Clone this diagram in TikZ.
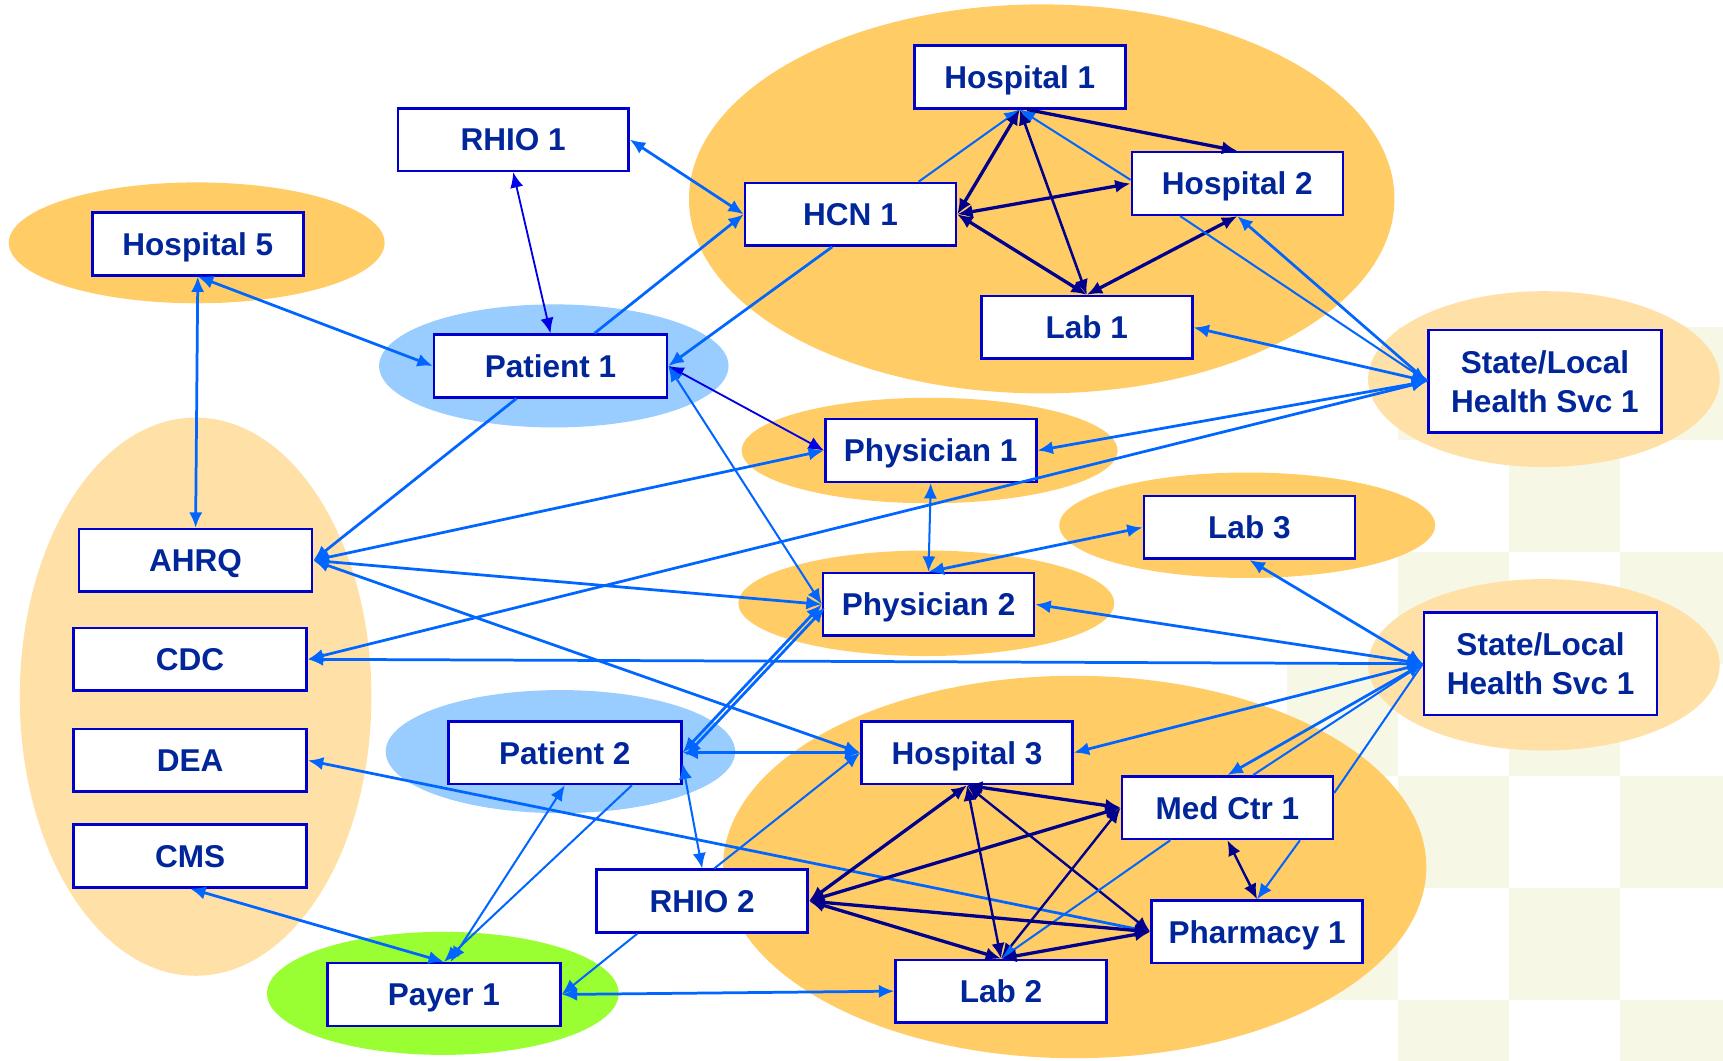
\documentclass[tikz,border=0pt]{standalone}
\usepackage{fontspec}
\setmainfont{Liberation Sans}
\usetikzlibrary{arrows.meta}
\definecolor{boxblue}{RGB}{0,0,204}
\definecolor{textblue}{RGB}{0,38,153}
\definecolor{linkblue}{RGB}{0,102,255}
\definecolor{midblue}{RGB}{0,0,230}
\definecolor{navyline}{RGB}{0,0,140}
\definecolor{orangefill}{RGB}{255,204,102}
\definecolor{paleorange}{RGB}{255,225,168}
\definecolor{skyfill}{RGB}{153,204,255}
\definecolor{limefill}{RGB}{153,255,51}
\definecolor{checker}{RGB}{247,247,230}

\begin{document}
\begin{tikzpicture}[
x=0.3mm,y=-0.3mm,
>={Latex[length=4.2mm,width=3.6mm]},
box/.style={
  draw=boxblue,
  fill=white,
  line width=0.7mm,
  text=textblue,
  font=\fontsize{24.5}{30}\selectfont\bfseries,
  minimum width=57.6mm,
  minimum height=17.1mm,
  text depth=0pt,
  inner sep=0pt
},
wbox/.style={
  box,
  minimum width=63.6mm
},
tbox/.style={
  wbox,
  minimum height=27.9mm,
  align=center
},
lnk/.style={draw=linkblue, line width=0.75mm},
thn/.style={draw=linkblue, line width=0.55mm},
nav/.style={draw=navyline, line width=0.9mm},
blob/.style={fill=#1}
]
\useasboundingbox (0,0) rectangle (1568,965);
\fill[white] (0,0) rectangle (1568,965);

\begin{scope}
\clip (0,0) rectangle (1568,965);
\foreach \i in {0,...,3}
  \foreach \j in {0,...,6} {
    \pgfmathtruncatemacro{\odd}{mod(\i+\j,2)}
    \pgfmathtruncatemacro{\skip}{(\i==0)&&(\j<3)}
    \ifnum\odd=1 \ifnum\skip=0
      \fill[checker] ({1171+101*\i},{298+102*\j}) rectangle +(101,102);
    \fi\fi
  }
\end{scope}

\fill[blob=orangefill] (948,181) ellipse [x radius=321, y radius=177];
\fill[blob=orangefill] (179,221) ellipse [x radius=171, y radius=55];
\fill[blob=skyfill] (504,333) ellipse [x radius=159, y radius=56];
\fill[blob=paleorange] (178,634) ellipse [x radius=160, y radius=254];
\fill[blob=paleorange] (1405,345) ellipse [x radius=160, y radius=80];
\fill[blob=orangefill] (846,410) ellipse [x radius=171, y radius=48];
\fill[blob=orangefill] (1135,478) ellipse [x radius=171, y radius=48];
\fill[blob=orangefill] (843,549) ellipse [x radius=171, y radius=48];
\fill[blob=paleorange] (1405,605) ellipse [x radius=160, y radius=78];
\fill[blob=skyfill] (510,684) ellipse [x radius=159, y radius=56];
\fill[blob=orangefill] (978,789) ellipse [x radius=320, y radius=174];
\fill[blob=limefill] (403,904) ellipse [x radius=160, y radius=56];

\node[box] (h1) at (928,70)
  {Hospital 1};
\node[wbox,minimum width=63mm] (rhio1) at (467,127)
  {RHIO 1};
\node[box] (hcn1) at (774,195)
  {HCN 1};
\node[box] (h2) at (1126,167)
  {Hospital 2};
\node[box] (h5) at (180,222)
  {Hospital 5};
\node[box] (lab1) at (989,298)
  {Lab 1};
\node[wbox] (pat1) at (501,333)
  {Patient 1};
\node[tbox] (sl1) at (1406,347)
  {State/Local\\Health Svc 1};
\node[box] (phy1) at (847,410)
  {Physician 1};
\node[box] (lab3) at (1137,480)
  {Lab 3};
\node[wbox] (ahrq) at (178,510)
  {AHRQ};
\node[box] (phy2) at (845,550)
  {Physician 2};
\node[wbox] (cdc) at (173,600)
  {CDC};
\node[tbox] (sl2) at (1402,604)
  {State/Local\\Health Svc 1};
\node[wbox] (pat2) at (514,685)
  {Patient 2};
\node[box] (h3) at (880,685)
  {Hospital 3};
\node[wbox] (dea) at (173,692)
  {DEA};
\node[box] (med) at (1117,735)
  {Med Ctr 1};
\node[wbox] (cms) at (173,779)
  {CMS};
\node[box] (rhio2) at (639,820)
  {RHIO 2};
\node[box] (pharm) at (1144,848)
  {Pharmacy 1};
\node[wbox] (payer) at (404,905)
  {Payer 1};
\node[box] (lab2) at (911,902)
  {Lab 2};

% upper group
\draw[lnk,<->] (rhio1.east) -- (hcn1.west);
\draw[draw=midblue,line width=0.5mm,<->] (rhio1.south) -- (pat1.north);
\draw[lnk,->] ([xshift=12mm]pat1.north) -- (hcn1.west);
\draw[lnk,->] ([xshift=-5mm]hcn1.south) -- (pat1.east);
\draw[thn,->] ([xshift=18.6mm]hcn1.north) -- (h1.south);
\draw[thn,->] ([yshift=1mm]h2.west) -- (h1.south);
\draw[nav,<->] (hcn1.east) -- (h1.south);
\draw[nav,<->] (hcn1.east) -- (h2.west);
\draw[nav,<->] (hcn1.east) -- (lab1.north);
\draw[nav,line width=0.7mm,<->] (h1.south) -- (lab1.north);
\draw[nav,->] ([xshift=2mm]h1.south) -- (h2.north);
\draw[nav,<->] (h2.south) -- (lab1.north);
\draw[thn,->] ([xshift=-15.6mm]h2.south) -- (sl1.west);
\draw[lnk,->] (sl1.west) -- (h2.south);
\draw[lnk,<->] (sl1.west) -- (lab1.east);
\draw[lnk,<->] (sl1.west) -- (phy1.east);
\draw[lnk,<->] (sl1.west) -- (cdc.east);

% left side
\draw[lnk,<->] (h5.south) -- (ahrq.north);
\draw[lnk,<->] (h5.south) -- (pat1.west);
\draw[lnk,->] ([xshift=-9.3mm]pat1.south) -- (ahrq.east);
\draw[draw=midblue,line width=0.5mm,<->] (pat1.east) -- (phy1.west);
\draw[thn,<->] (pat1.east) -- (phy2.west);
\draw[lnk,<->] (ahrq.east) -- (phy1.west);
\draw[lnk,<->] (ahrq.east) -- (phy2.west);
\draw[lnk,<->] (ahrq.east) -- (h3.west);

% middle
\draw[thn,<->] (phy1.south) -- (phy2.north);
\draw[lnk,<->] (phy2.north) -- (lab3.west);
\draw[lnk,<->] (lab3.south) -- (sl2.west);
\draw[lnk,<->] (sl2.west) -- (phy2.east);
\draw[lnk,<->] (sl2.west) -- (cdc.east);
\draw[lnk,<->] (sl2.west) -- (h3.east);
\draw[lnk,<->] (sl2.west) -- (med.north);
\draw[thn] ([xshift=7mm]med.north) -- (sl2.west);
\draw[thn] ([yshift=4mm]med.east) -- (sl2.west);

% patient 2 and payer
\draw[lnk,<->] (pat2.east) -- (phy2.west);
\draw[lnk,<->] ([shift={(0.9mm,-0.8mm)}]pat2.east) -- ([shift={(0.9mm,-0.8mm)}]phy2.west);
\draw[lnk,<->] (pat2.east) -- (h3.west);
\draw[thn,<->] ([yshift=-3mm]pat2.east) -- (rhio2.north);
\draw[thn,<->] (pat2.south) -- ([xshift=1.8mm]payer.north);
\draw[thn,->] ([xshift=18.3mm]pat2.south) -- (payer.north);
\draw[lnk,<->] (cms.south) -- (payer.north);
\draw[lnk,<->] (dea.east) -- (pharm.west);
\draw[thn,->] ([xshift=3.3mm]rhio2.north) -- (h3.west);
\draw[thn,->] ([xshift=-17.7mm]rhio2.south) -- (payer.east);
\draw[lnk,<->] (payer.east) -- (lab2.west);

% lower group
\draw[nav,<->] (h3.south) -- (rhio2.east);
\draw[nav,<->] (h3.south) -- (med.west);
\draw[nav,line width=0.65mm,<->] (h3.south) -- (lab2.north);
\draw[nav,line width=0.65mm,<->] (h3.south) -- (pharm.west);
\draw[nav,<->] (med.west) -- (rhio2.east);
\draw[nav,line width=0.65mm,<->] (med.west) -- (lab2.north);
\draw[nav,line width=0.65mm,<->] (med.south) -- (pharm.north);
\draw[thn,->] ([xshift=19.8mm]med.south) -- (pharm.north);
\draw[thn,->] ([xshift=-15.6mm]med.south) -- (lab2.north);
\draw[nav,<->] (rhio2.east) -- (pharm.west);
\draw[nav,<->] (rhio2.east) -- (lab2.north);
\draw[nav,<->] (lab2.north) -- (pharm.west);
\end{tikzpicture}
\end{document}
